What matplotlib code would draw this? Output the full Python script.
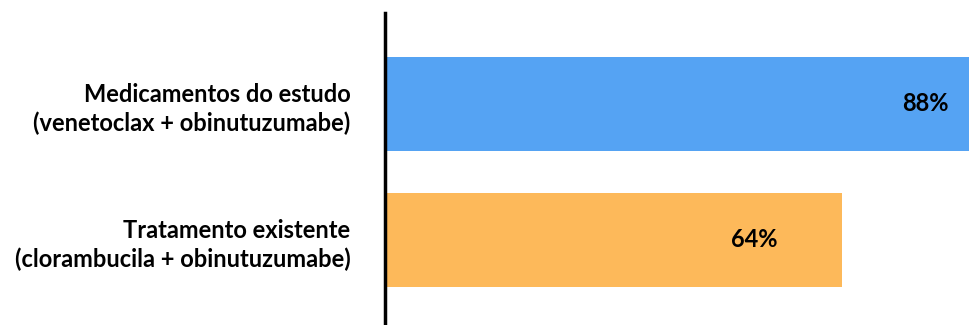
import matplotlib.pyplot as plt

plt.rcParams['font.family'] = ['Lato', 'DejaVu Sans']

categories = ['Tratamento existente\n(clorambucila + obinutuzumabe)',
              'Medicamentos do estudo\n(venetoclax + obinutuzumabe)']
values = [64, 88]
labels = ['64%', '88%']
colors = ['#FDB95A', '#55A3F3']

fig = plt.figure(figsize=(9.7, 3.25), dpi=100)
ax = fig.add_axes([385 / 970, 0, 585 / 970, 1 - 13 / 325])

ax.barh(range(len(values)), values, height=0.685, color=colors)

for i, (v, lab) in enumerate(zip(values, labels)):
    ax.text(v - 12.3, i, lab, ha='center', va='center',
            fontsize=17, fontweight='bold', color='black')

ax.set_xlim(0, 81.9)
ax.set_ylim(-0.625, 1.669)
ax.set_yticks(range(len(categories)))
ax.set_yticklabels(categories, fontsize=17, fontweight='bold',
                   linespacing=1.3)
ax.tick_params(axis='y', length=0, pad=25)
ax.set_xticks([])

for s in ['top', 'right', 'bottom']:
    ax.spines[s].set_visible(False)
ax.spines['left'].set_linewidth(2.5)
ax.spines['left'].set_color('black')

fig.savefig('out.png', dpi=100)
